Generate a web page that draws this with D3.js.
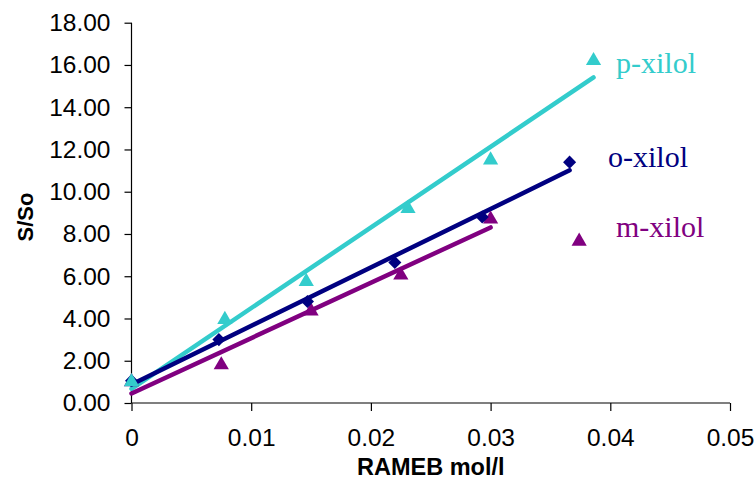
<!DOCTYPE html>
<html>
<head>
<meta charset="utf-8">
<script src="https://cdn.jsdelivr.net/npm/d3@7"></script>
<style>
  html, body { margin: 0; padding: 0; background: #fff; }
  svg { display: block; }
</style>
</head>
<body>
<div id="chart"></div>
<script>
// ─── data ────────────────────────────────────────────────────────
const pX = [0, 0.0078, 0.0146, 0.0231, 0.0300, 0.0386];
const pY = [1.0, 3.95, 5.75, 9.2, 11.5, 16.2];

const oX = [0, 0.0073, 0.0147, 0.0220, 0.0293, 0.0366];
const oY = [1.05, 3.0, 4.8, 6.65, 8.8, 11.4];

const mX = [0, 0.0075, 0.0150, 0.0225, 0.0300, 0.0374];
const mY = [1.0, 1.8, 4.35, 6.05, 8.7, 7.65];

const xTicks = [0, 0.01, 0.02, 0.03, 0.04, 0.05];
const yTicks = [0, 2, 4, 6, 8, 10, 12, 14, 16, 18];

// ─── colours ─────────────────────────────────────────────────────
const cyan   = "#33cccc";
const navy   = "#000080";
const purple = "#800080";

// series: fitN = how many points the trendline is fitted on
const series = [
  { name: "p-xilol", xs: pX, ys: pY, color: cyan,   shape: "triangle", fitN: 6, lx: 616, ly: 73 },
  { name: "o-xilol", xs: oX, ys: oY, color: navy,   shape: "diamond",  fitN: 6, lx: 608, ly: 167 },
  { name: "m-xilol", xs: mX, ys: mY, color: purple, shape: "triangle", fitN: 5, lx: 616, ly: 237 }
];

const width = 756, height = 482;

const x = d3.scaleLinear().domain([0, 0.05]).range([131.5, 730]);
const y = d3.scaleLinear().domain([0, 18]).range([403, 22.7]);

const svg = d3.select("#chart").append("svg")
  .attr("width", width)
  .attr("height", height);

// least squares line through the first n points
const fit = (xs, ys, n) => {
  const xa = xs.slice(0, n), ya = ys.slice(0, n);
  const mx = d3.mean(xa), my = d3.mean(ya);
  const sxy = d3.sum(xa, (v, i) => (v - mx) * (ya[i] - my));
  const sxx = d3.sum(xa, v => (v - mx) * (v - mx));
  const slope = sxy / sxx;
  return { slope, intercept: my - slope * mx, x0: d3.min(xa), x1: d3.max(xa) };
};

// ─── axes ────────────────────────────────────────────────────────
const yAxis = svg.append("g")
  .attr("transform", `translate(${x(0)},0)`)
  .call(d3.axisLeft(y).tickValues(yTicks).tickSize(7).tickPadding(14).tickFormat(d3.format(".2f")));

const xAxis = svg.append("g")
  .attr("transform", `translate(0,${y(0)})`)
  .call(d3.axisBottom(x).tickValues(xTicks).tickSize(8).tickPadding(18).tickFormat(d => d === 0 ? "0" : d3.format(".2f")(d)));

[yAxis, xAxis].forEach(g => {
  g.select(".domain").attr("stroke", "#000").attr("stroke-width", 1.2);
  g.selectAll(".tick line").attr("stroke", "#000").attr("stroke-width", 1.2);
  g.selectAll(".tick text")
    .attr("fill", "#000")
    .style("font-family", "Arial, 'Liberation Sans', sans-serif")
    .style("font-size", "24.5px");
});
// remove the outer tick stubs so the domains are plain lines
yAxis.select(".domain").attr("d", `M0,${y(18)}V${y(0)}`);
xAxis.select(".domain").attr("d", `M${x(0)},0H${x(0.05)}`);

// axis titles
svg.append("text")
  .attr("x", x(0.025))
  .attr("y", 475)
  .attr("text-anchor", "middle")
  .style("font-family", "Arial, 'Liberation Sans', sans-serif")
  .style("font-size", "23.5px")
  .style("font-weight", "bold")
  .text("RAMEB mol/l");

svg.append("text")
  .attr("transform", `translate(33,217) rotate(-90)`)
  .attr("text-anchor", "middle")
  .style("font-family", "Arial, 'Liberation Sans', sans-serif")
  .style("font-size", "22px")
  .style("font-weight", "bold")
  .text("S/So");

// ─── trendlines ──────────────────────────────────────────────────
series.forEach(s => {
  const f = fit(s.xs, s.ys, s.fitN);
  svg.append("line")
    .attr("x1", x(f.x0)).attr("y1", y(f.intercept + f.slope * f.x0))
    .attr("x2", x(f.x1)).attr("y2", y(f.intercept + f.slope * f.x1))
    .attr("stroke", s.color)
    .attr("stroke-width", 4.5)
    .attr("stroke-linecap", "round");
});

// ─── markers ─────────────────────────────────────────────────────
const triangle = d3.symbol().type(d3.symbolTriangle).size(100);
const diamond  = d3.symbol().type(d3.symbolSquare).size(85);

// draw m first, then o, then p so the cyan sits on top at x = 0
[series[2], series[1], series[0]].forEach(s => {
  svg.append("g")
    .selectAll("path")
    .data(s.xs.map((v, i) => ({ x: v, y: s.ys[i] })))
    .join("path")
    .attr("d", s.shape === "triangle" ? triangle : diamond)
    .attr("transform", d => `translate(${x(d.x)},${y(d.y)})` + (s.shape === "diamond" ? " rotate(45)" : ""))
    .attr("fill", s.color);
});

// ─── series labels ───────────────────────────────────────────────
svg.selectAll("text.series-label")
  .data(series)
  .join("text")
  .attr("class", "series-label")
  .attr("x", d => d.lx)
  .attr("y", d => d.ly)
  .attr("fill", d => d.color)
  .style("font-family", "'Liberation Serif', 'Times New Roman', serif")
  .style("font-size", "30px")
  .text(d => d.name);
</script>
</body>
</html>
